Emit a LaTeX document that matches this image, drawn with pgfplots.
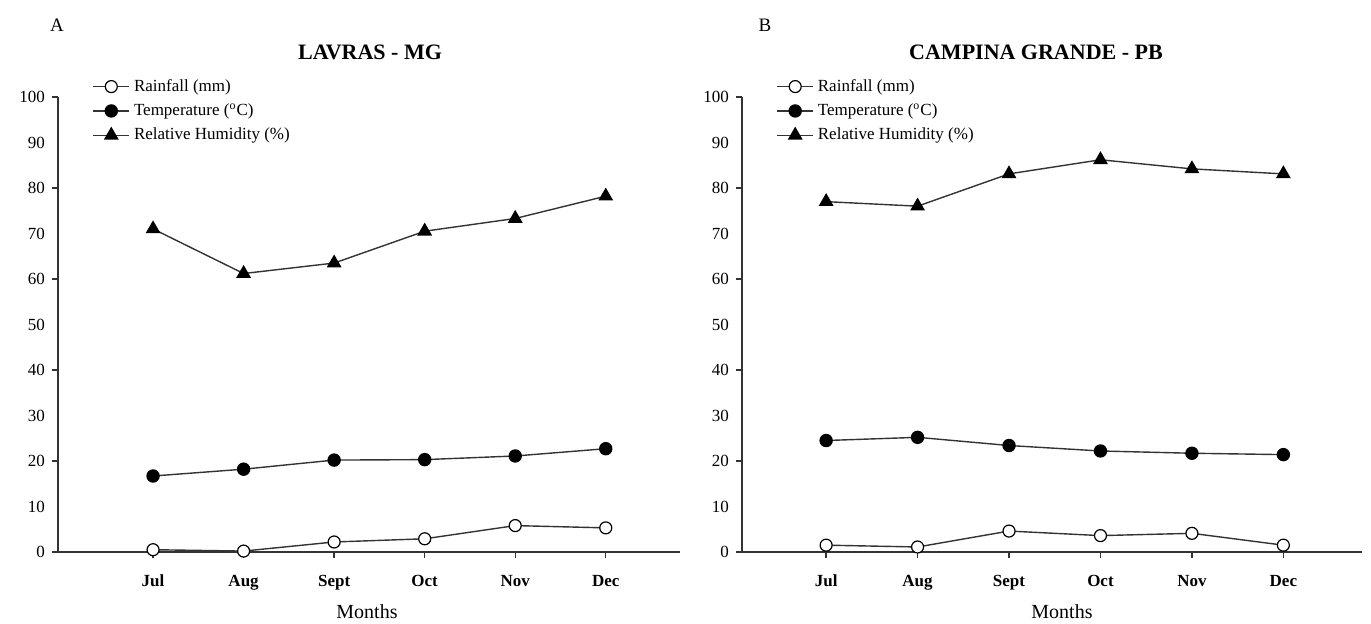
\documentclass[border=0pt]{standalone}
\usepackage{pgfplots}
\pgfplotsset{compat=1.18}
\usepackage{fontspec}
\setmainfont{Liberation Serif}

\definecolor{ln}{HTML}{333333}

\pgfplotstableread{
x rain temp rh
0 0.5 16.7 71.0
1 0.2 18.2 61.2
2 2.2 20.2 63.5
3 2.9 20.3 70.5
4 5.8 21.1 73.3
5 5.3 22.7 78.2
}\lavras

\pgfplotstableread{
x rain temp rh
0 1.5 24.5 77.0
1 1.1 25.2 76.0
2 4.6 23.4 83.1
3 3.6 22.2 86.2
4 4.1 21.7 84.2
5 1.5 21.4 83.1
}\campina

\pgfplotsset{
  panel/.style={
    scale only axis,
    width=311pt, height=227.5pt,
    xmin=-1.05, xmax=5.82,
    ymin=0, ymax=100,
    axis lines*=left,
    axis line style={black!80, line width=0.7pt},
    tick align=outside,
    major tick length=3pt,
    tick style={black!80, line width=0.7pt},
    xtick={0,...,5},
    xticklabels={Jul,Aug,Sept,Oct,Nov,Dec},
    xticklabel style={font=\bfseries\fontsize{8.5}{10}\selectfont, yshift=-5pt},
    ytick={0,20,...,100},
    extra y ticks={10,30,...,90},
    extra y tick style={major tick style={draw=none}},
    yticklabel style={font=\fontsize{8.5}{10}\selectfont},
    /pgf/number format/assume math mode=true,
    clip=false,
    legend cell align=left,
    legend style={draw=none, fill=none, font=\fontsize{8.5}{10}\selectfont,
      at={(rel axis cs:0.055,1.049)}, anchor=north west,
      row sep=0.75pt, inner sep=0pt},
    legend image code/.code={
      \draw[#1, mark repeat=2, mark phase=2]
        plot coordinates {(0pt,0pt) (9pt,0pt) (18pt,0pt)};},
  },
  rainS/.style={ln, line width=0.7pt, mark=*, mark size=3pt,
    mark options={fill=white, draw=black, line width=0.6pt}},
  tempS/.style={ln, line width=0.7pt, mark=*, mark size=3pt,
    mark options={fill=black, draw=black}},
  rhS/.style={ln, line width=0.7pt, mark=triangle*, mark size=3.6pt,
    mark options={fill=black, draw=black}},
}

\begin{document}
\begin{tikzpicture}
\useasboundingbox (-29pt,-36pt) rectangle (656.5pt,276pt);

\begin{axis}[panel, at={(0pt,0pt)}]
  \addplot[rainS] table[x=x, y=rain] {\lavras};
  \addplot[tempS] table[x=x, y=temp] {\lavras};
  \addplot[rhS] table[x=x, y=rh] {\lavras};
  \legend{Rainfall (mm), Temperature ($^{\mathrm{o}}$C), Relative Humidity (\%)}
\end{axis}
\node[font=\fontsize{9.5}{11}\selectfont] at (-0.5pt,263.5pt) {A};
\node[font=\bfseries\fontsize{11}{13}\selectfont] at (156pt,250pt) {LAVRAS - MG};
\node[font=\fontsize{10}{12}\selectfont] at (154.5pt,-30pt) {Months};

\begin{axis}[panel, at={(342pt,0pt)}, width=310pt, xmin=-0.92, xmax=5.86]
  \addplot[rainS] table[x=x, y=rain] {\campina};
  \addplot[tempS] table[x=x, y=temp] {\campina};
  \addplot[rhS] table[x=x, y=rh] {\campina};
  \legend{Rainfall (mm), Temperature ($^{\mathrm{o}}$C), Relative Humidity (\%)}
\end{axis}
\node[font=\fontsize{9.5}{11}\selectfont] at (353.5pt,263.5pt) {B};
\node[font=\bfseries\fontsize{11}{13}\selectfont] at (489pt,250pt) {CAMPINA GRANDE - PB};
\node[font=\fontsize{10}{12}\selectfont] at (502pt,-30pt) {Months};
\end{tikzpicture}
\end{document}
